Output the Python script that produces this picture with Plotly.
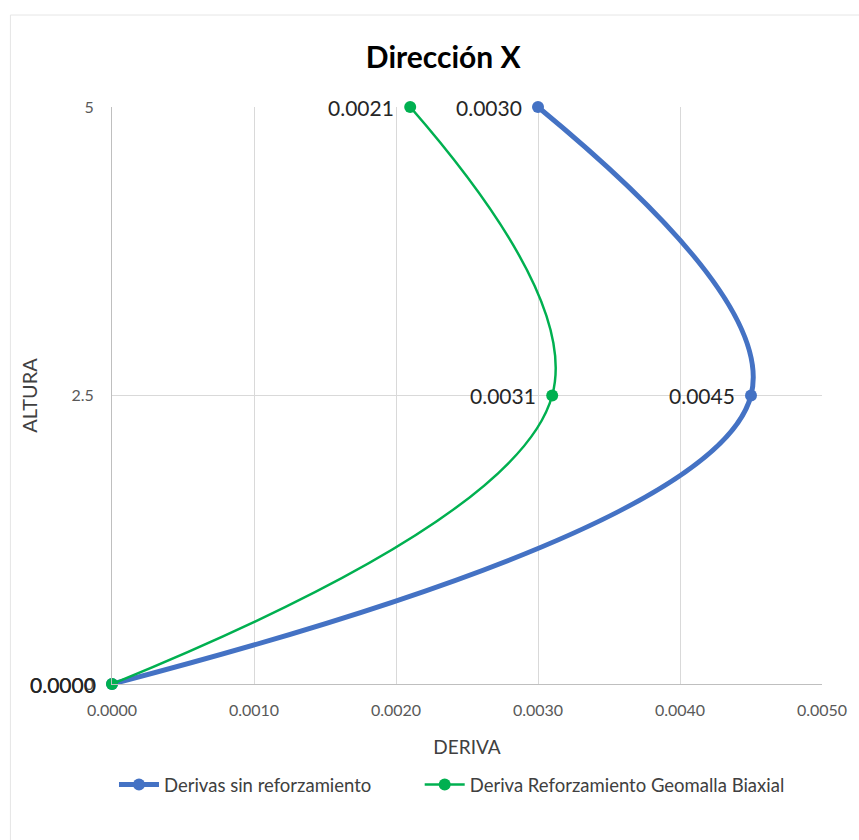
import plotly.graph_objects as go

altura = [0, 2.5, 5]
deriva_sin = [0.0, 0.0045, 0.0030]
deriva_geo = [0.0, 0.0031, 0.0021]
labels_sin = ["0.0000", "0.0045", "0.0030"]
labels_geo = ["0.0000", "0.0031", "0.0021"]
x_ticks = [0, 0.001, 0.002, 0.003, 0.004, 0.005]
y_ticks = [0, 2.5, 5]
y_ticktext = ["0", "2.5", "5"]

FONT = "Lato, 'Open Sans', sans-serif"

fig = go.Figure()
series = [
    ("Derivas sin reforzamiento", deriva_sin, labels_sin, "#4472C4", 5, "legend"),
    ("Deriva Reforzamiento Geomalla Biaxial", deriva_geo, labels_geo, "#00B050", 2.5, "legend2"),
]
for name, xs, labs, color, w, leg in series:
    fig.add_trace(go.Scatter(
        x=xs, y=altura, mode="lines+markers", name=name, legend=leg,
        line=dict(color=color, width=w, shape="spline", smoothing=1.1),
        marker=dict(size=12, color=color),
        cliponaxis=False,
    ))
    for xv, yv, t in zip(xs, altura, labs):
        fig.add_annotation(x=xv, y=yv, text=t, showarrow=False,
                           xanchor="right", yanchor="middle", xshift=-14,
                           font=dict(size=21, color="#262626", family=FONT))

legend_style = dict(orientation="h", xanchor="left", y=-0.175, yanchor="middle",
                    font=dict(size=18.5, color="#404040", family=FONT),
                    itemwidth=40, bgcolor="rgba(0,0,0,0)")

fig.update_layout(
    width=859, height=840,
    paper_bgcolor="white", plot_bgcolor="white",
    margin=dict(l=112, r=34, t=107, b=156),
    font=dict(family=FONT, color="#595959", size=16),
    title=dict(text="<b>Dirección X</b>", x=0.516, xanchor="center",
               y=0.931, yanchor="middle",
               font=dict(size=30, color="#000000", family=FONT)),
    showlegend=True,
    legend=dict(x=(114-112)/713, **legend_style),
    legend2=dict(x=(421-112)/713, **legend_style),
)
# faint outer chart border
fig.add_shape(type="rect", xref="paper", yref="paper",
              x0=(10-112)/713, x1=(870-112)/713,
              y0=(684-850)/577, y1=(684-15)/577,
              line=dict(color="#E6E6E6", width=1), layer="below")

fig.update_xaxes(
    range=[0, 0.005], tickvals=x_ticks, tickformat=".4f",
    showgrid=True, gridcolor="#D9D9D9", gridwidth=1,
    zeroline=False, showline=True, linecolor="#BFBFBF", linewidth=1,
    ticks="", ticklabelstandoff=12,
    title=dict(text="DERIVA", font=dict(size=19, color="#404040"), standoff=22),
    tickfont=dict(size=16, color="#595959"),
)
fig.update_yaxes(
    range=[0, 5], tickvals=y_ticks, ticktext=y_ticktext,
    showgrid=True, gridcolor="#D9D9D9", gridwidth=1,
    zeroline=False, showline=True, linecolor="#BFBFBF", linewidth=1,
    ticks="", ticklabelstandoff=14,
    title=dict(text="ALTURA", font=dict(size=20, color="#404040"), standoff=28),
    tickfont=dict(size=16, color="#595959"),
)

fig.write_html("out.html", config={"displayModeBar": False},
               post_script="document.body.style.margin='0';")
